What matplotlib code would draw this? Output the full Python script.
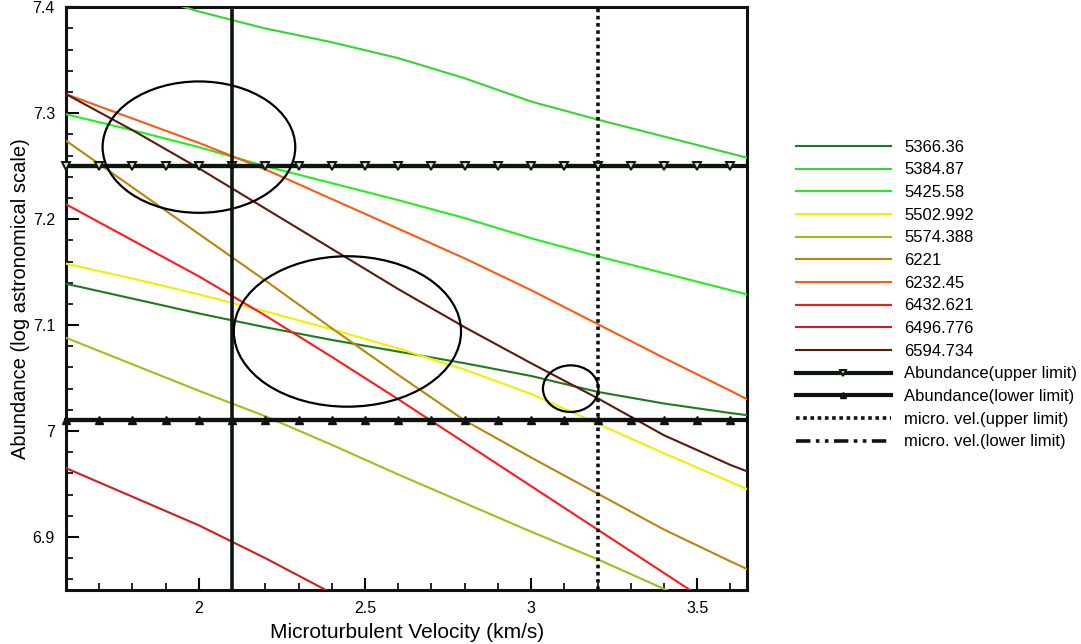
import matplotlib
matplotlib.use("Agg")
import matplotlib.pyplot as plt
from matplotlib.patches import Ellipse
from matplotlib.lines import Line2D
import numpy as np

plt.rcParams["font.family"] = ["Liberation Sans", "DejaVu Sans"]

# Microturbulent velocity grid (km/s)
velocity = [1.6, 1.8, 2.0, 2.2, 2.4, 2.6, 2.8, 3.0, 3.2, 3.4, 3.6, 3.8]

# Abundance derived from each Fe line (wavelength in Angstrom)
wavelengths = ["5366.36", "5384.87", "5425.58", "5502.992", "5574.388",
               "6221", "6232.45", "6432.621", "6496.776", "6594.734"]

ab_5366 = [7.139, 7.125, 7.111, 7.098, 7.086, 7.075, 7.064, 7.052, 7.037, 7.026, 7.017, 7.009]
ab_5384 = [7.430, 7.415, 7.396, 7.380, 7.367, 7.352, 7.333, 7.311, 7.294, 7.278, 7.262, 7.246]
ab_5425 = [7.299, 7.284, 7.268, 7.250, 7.234, 7.218, 7.201, 7.182, 7.165, 7.149, 7.133, 7.117]
ab_5502 = [7.158, 7.144, 7.129, 7.113, 7.096, 7.078, 7.058, 7.035, 7.007, 6.979, 6.952, 6.925]
ab_5574 = [7.088, 7.063, 7.038, 7.014, 6.987, 6.959, 6.932, 6.905, 6.879, 6.851, 6.823, 6.795]
ab_6221 = [7.274, 7.230, 7.186, 7.142, 7.097, 7.053, 7.010, 6.975, 6.941, 6.907, 6.877, 6.848]
ab_6232 = [7.318, 7.295, 7.272, 7.247, 7.219, 7.191, 7.163, 7.133, 7.101, 7.069, 7.038, 7.006]
ab_6432 = [7.214, 7.180, 7.146, 7.109, 7.070, 7.030, 6.989, 6.948, 6.907, 6.866, 6.825, 6.784]
ab_6496 = [6.965, 6.938, 6.911, 6.880, 6.847, 6.814, 6.781, 6.748, 6.715, 6.682, 6.649, 6.616]
ab_6594 = [7.318, 7.284, 7.248, 7.210, 7.172, 7.134, 7.098, 7.064, 7.031, 6.996, 6.968, 6.944]

series = [ab_5366, ab_5384, ab_5425, ab_5502, ab_5574,
          ab_6221, ab_6232, ab_6432, ab_6496, ab_6594]
colors = ["#1f7a1f", "#33d633", "#22ee22", "#f0f000", "#99c21a",
          "#b8860b", "#fa5a14", "#ff1a1a", "#cc1f1f", "#5a1a0e"]

# Adopted limits
abund_upper = 7.25
abund_lower = 7.01
vel_upper = 3.2
vel_lower = 2.1
limit_marker_x = [1.6, 1.7, 1.8, 1.9, 2.0, 2.1, 2.2, 2.3, 2.4, 2.5, 2.6,
                  2.7, 2.8, 2.9, 3.0, 3.1, 3.2, 3.3, 3.4, 3.5, 3.6]

# Highlighted intersection regions: (centre v, centre A, width, height)
regions = [(2.00, 7.268, 0.58, 0.124),
           (2.447, 7.094, 0.684, 0.142),
           (3.119, 7.040, 0.167, 0.044)]

fig = plt.figure(figsize=(10.81, 6.44), dpi=100)
ax = fig.add_axes([0.0611, 0.0839, 0.630, 0.9048])

for vals, col, lab in zip(series, colors, wavelengths):
    ax.plot(velocity, vals, color=col, lw=1.5, label=lab, zorder=3)

dark = "#0b170b"
ax.plot(limit_marker_x, [abund_upper] * len(limit_marker_x), color=dark, lw=3,
        marker="v", ms=5.5, mfc="#d8dcd8", mec=dark, mew=1.4,
        label="Abundance(upper limit)", zorder=5, clip_on=False)
ax.plot(limit_marker_x, [abund_lower] * len(limit_marker_x), color="#111111", lw=3,
        marker="^", ms=5.5, mfc="#111111", mec="#111111",
        label="Abundance(lower limit)", zorder=5, clip_on=False)
ax.axhline(abund_upper, color=dark, lw=3, zorder=4)
ax.axhline(abund_lower, color="#111111", lw=3, zorder=4)

ax.axvline(vel_upper, color=dark, lw=2.6, ls=(0, (1, 1)), zorder=6)
ax.axvline(vel_lower, color=dark, lw=2.6, ls="-", zorder=6)

for cx, cy, w, h in regions:
    ax.add_patch(Ellipse((cx, cy), w, h, fill=False, ec="black", lw=1.6, zorder=7))

ax.set_xlim(1.6, 3.65)
ax.set_ylim(6.85, 7.4)
ax.set_xticks([2, 2.5, 3, 3.5])
ax.set_xticklabels(["2", "2.5", "3", "3.5"])
ax.set_xticks(np.arange(1.7, 3.65, 0.1), minor=True)
ax.set_yticks([6.9, 7.0, 7.1, 7.2, 7.3, 7.4])
ax.set_yticklabels(["6.9", "7", "7.1", "7.2", "7.3", "7.4"])
ax.set_yticks(np.arange(6.86, 7.4, 0.02), minor=True)
ax.tick_params(which="both", direction="in", top=False, right=False,
               labelsize=11.5, width=1.5, pad=8)
ax.tick_params(which="major", length=9)
ax.tick_params(which="minor", length=5, width=1.2)
for sp in ax.spines.values():
    sp.set_linewidth(2.2)
    sp.set_color("#111111")

ax.set_xlabel("Microturbulent Velocity (km/s)", fontsize=15, labelpad=5)
ax.set_ylabel("Abundance (log astronomical scale)", fontsize=14.5, labelpad=2)

handles, labels = ax.get_legend_handles_labels()
handles.append(Line2D([], [], color=dark, lw=2.6, ls=(0, (1, 1))))
labels.append("micro. vel.(upper limit)")
handles.append(Line2D([], [], color=dark, lw=2.6, ls=(0, (4, 1.5, 1, 1.5, 1, 1.5))))
labels.append("micro. vel.(lower limit)")
fig.legend(handles, labels, loc="upper left", bbox_to_anchor=(0.736, 0.783),
           frameon=False, fontsize=12, handlelength=5.7, handletextpad=0.8,
           labelspacing=0.46, markerscale=0.9, borderaxespad=0, borderpad=0)

fig.savefig("out.png", dpi=100)
